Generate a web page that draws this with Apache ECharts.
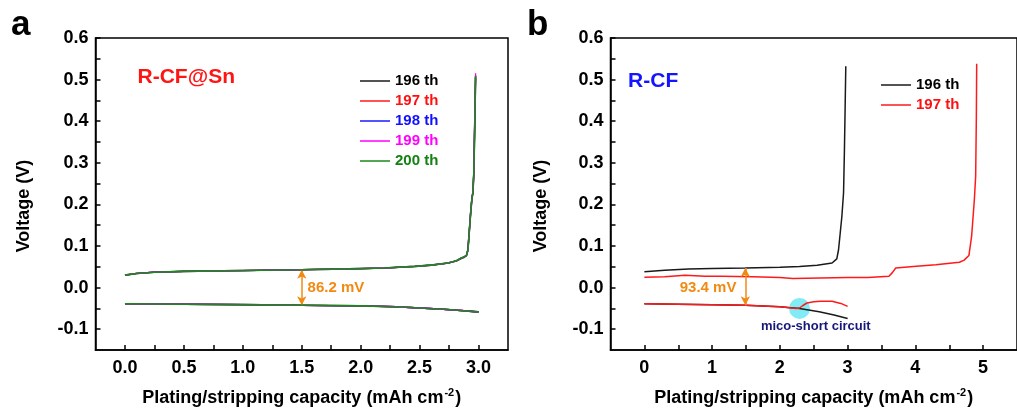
<!DOCTYPE html>
<html>
<head>
<meta charset="utf-8">
<script src="https://cdn.jsdelivr.net/npm/echarts@6/dist/echarts.min.js"></script>
<style>html,body{margin:0;padding:0;background:#fff}#c{width:1017px;height:419px}</style>
</head>
<body>
<div id="c"></div>
<script>
// ---------- tick labels ----------
const yLabels = [-0.1, 0.0, 0.1, 0.2, 0.3, 0.4, 0.5, 0.6];
const yTicks = [-0.1, -0.05, 0.0, 0.05, 0.1, 0.15, 0.2, 0.25, 0.3, 0.35, 0.4, 0.45, 0.5, 0.55, 0.6];
const aXLabels = [0.0, 0.5, 1.0, 1.5, 2.0, 2.5, 3.0];
const aXTicks = [0, 0.25, 0.5, 0.75, 1.0, 1.25, 1.5, 1.75, 2.0, 2.25, 2.5, 2.75, 3.0];
const bXLabels = [0, 1, 2, 3, 4, 5];
const bXTicks = [0, 0.5, 1, 1.5, 2, 2.5, 3, 3.5, 4, 4.5, 5];

// ---------- panel a : R-CF@Sn ----------
const aCycles = ['196 th', '197 th', '198 th', '199 th', '200 th'];
const aChargeX = [0, 0.1, 0.25, 0.5, 1.0, 1.5, 1.9, 2.2, 2.46, 2.6, 2.74, 2.81, 2.853, 2.88, 2.898, 2.91, 2.933, 2.944, 2.952, 2.96, 2.968, 2.975];
const a196Charge = [0.030, 0.034, 0.037, 0.039, 0.041, 0.043, 0.045, 0.047, 0.051, 0.054, 0.059, 0.064, 0.070, 0.073, 0.077, 0.090, 0.178, 0.214, 0.226, 0.274, 0.39, 0.505];
const a197Charge = [0.030, 0.034, 0.037, 0.039, 0.041, 0.043, 0.045, 0.047, 0.051, 0.054, 0.059, 0.064, 0.071, 0.074, 0.078, 0.091, 0.180, 0.216, 0.228, 0.276, 0.40, 0.508];
const a198Charge = [0.030, 0.034, 0.037, 0.039, 0.041, 0.043, 0.045, 0.047, 0.051, 0.054, 0.059, 0.064, 0.071, 0.074, 0.078, 0.091, 0.180, 0.216, 0.228, 0.277, 0.40, 0.510];
const a199Charge = [0.030, 0.034, 0.037, 0.039, 0.041, 0.043, 0.045, 0.047, 0.051, 0.054, 0.059, 0.064, 0.071, 0.074, 0.078, 0.091, 0.180, 0.216, 0.229, 0.278, 0.41, 0.515];
const a200Charge = [0.030, 0.034, 0.037, 0.039, 0.041, 0.043, 0.045, 0.047, 0.051, 0.054, 0.059, 0.064, 0.071, 0.074, 0.078, 0.091, 0.180, 0.216, 0.228, 0.276, 0.40, 0.509];
const aDisX = [0, 0.5, 1.0, 1.5, 2.0, 2.3, 2.5, 2.7, 2.85, 3.0];
const a196Dis = [-0.039, -0.040, -0.041, -0.0425, -0.044, -0.046, -0.049, -0.052, -0.055, -0.059];
const a197Dis = [-0.039, -0.040, -0.041, -0.0425, -0.044, -0.046, -0.049, -0.052, -0.055, -0.058];
const a198Dis = [-0.039, -0.040, -0.041, -0.0425, -0.044, -0.046, -0.049, -0.052, -0.055, -0.058];
const a199Dis = [-0.039, -0.040, -0.041, -0.0425, -0.044, -0.046, -0.049, -0.052, -0.055, -0.059];
const a200Dis = [-0.039, -0.040, -0.041, -0.0425, -0.044, -0.046, -0.049, -0.052, -0.055, -0.059];
const aGap = [1.5, 0.043, -0.0425];     // x, top, bottom of 86.2 mV arrow

// ---------- panel b : R-CF ----------
const bCycles = ['196 th', '197 th'];
const b196ChargeX = [0, 0.3, 0.65, 1.0, 1.49, 2.0, 2.29, 2.55, 2.77, 2.84, 2.866, 2.89, 2.915, 2.94, 2.953, 2.963, 2.973];
const b196Charge = [0.038, 0.042, 0.045, 0.046, 0.047, 0.049, 0.051, 0.054, 0.059, 0.069, 0.091, 0.13, 0.171, 0.228, 0.332, 0.43, 0.532];
const b196DisX = [0, 0.5, 1.0, 1.49, 2.0, 2.29, 2.58, 2.8, 3.0];
const b196Dis = [-0.039, -0.040, -0.041, -0.0425, -0.046, -0.0505, -0.058, -0.066, -0.0745];
const b197ChargeX = [0, 0.3, 0.6, 0.9, 1.13, 1.6, 2.0, 2.19, 2.6, 3.0, 3.3, 3.61, 3.66, 3.71, 3.97, 4.3, 4.65, 4.72, 4.79, 4.83, 4.87, 4.89, 4.90, 4.905];
const b197Charge = [0.025, 0.026, 0.0296, 0.027, 0.027, 0.026, 0.024, 0.022, 0.023, 0.024, 0.024, 0.027, 0.036, 0.047, 0.051, 0.055, 0.061, 0.066, 0.077, 0.123, 0.21, 0.268, 0.41, 0.538];
const b197DisX = [0, 0.5, 1.0, 1.49, 2.0, 2.24, 2.29, 2.34, 2.4, 2.5, 2.6, 2.77, 2.9, 3.0];
const b197Dis = [-0.039, -0.040, -0.041, -0.0425, -0.046, -0.0505, -0.049, -0.043, -0.037, -0.034, -0.033, -0.033, -0.038, -0.045];
const bGap = [1.49, 0.047, -0.0425];    // x, top, bottom of 93.4 mV arrow
const bShort = [2.29, -0.05];           // micro-short circuit point

// ---------- annotation texts (data coords) ----------
const aNotes = [{ text: 'R-CF@Sn', at: [0.52, 0.505] }, { text: '86.2 mV', at: [1.79, 0.0] }];
const bNotes = [{ text: 'R-CF', at: [0.13, 0.495] }, { text: '93.4 mV', at: [0.94, 0.0] }, { text: 'mico-short circuit', at: [2.53, -0.094] }];

// ---------- styles ----------
const FONT = '"Liberation Sans", Arial, sans-serif';
const cycleColor = { '196 th': '#1a1a1a', '197 th': '#ff1a1a', '198 th': '#1a1aff', '199 th': '#ff00ff', '200 th': '#1a8a1a' };
const cycleWidth = { '196 th': 1.6, '197 th': 1.3, '198 th': 1.3, '199 th': 1.3, '200 th': 1.6 };
const legendTextColor = { '196 th': '#000000', '197 th': '#ff1010', '198 th': '#1010ff', '199 th': '#ff00ff', '200 th': '#138213' };
const ORANGE = '#f28a12';
const noteStyle = {
  'R-CF@Sn': { color: '#ff1414', fontSize: 21 },
  'R-CF': { color: '#1414ff', fontSize: 21 },
  '86.2 mV': { color: ORANGE, fontSize: 15 },
  '93.4 mV': { color: ORANGE, fontSize: 15 },
  'mico-short circuit': { color: '#17177a', fontSize: 13 }
};

const zip = (xs, ys) => xs.map((x, i) => [x, ys[i]]);

function lineSeries(name, xs, ys, idx, z, w) {
  const c = cycleColor[name];
  return {
    type: 'line', name, xAxisIndex: idx, yAxisIndex: idx,
    data: zip(xs, ys), symbol: 'none', showSymbol: false,
    lineStyle: { color: c, width: w }, itemStyle: { color: c },
    z, silent: true, animation: false
  };
}

function arrowSeries(gap, idx) {
  return {
    type: 'line', xAxisIndex: idx, yAxisIndex: idx, data: [], silent: true, animation: false,
    markLine: {
      silent: true, animation: false,
      symbol: ['arrow', 'arrow'], symbolSize: [7, 9],
      lineStyle: { color: ORANGE, width: 1.5, type: 'solid' },
      label: { show: false },
      data: [[{ coord: [gap[0], gap[1]] }, { coord: [gap[0], gap[2]] }]]
    }
  };
}

function noteSeries(notes, idx) {
  return {
    type: 'scatter', xAxisIndex: idx, yAxisIndex: idx, symbolSize: 0, silent: true, animation: false, z: 20,
    data: notes.map(n => ({
      value: n.at,
      label: {
        show: true, position: 'inside', formatter: n.text,
        color: noteStyle[n.text].color, fontSize: noteStyle[n.text].fontSize,
        fontWeight: 'bold', fontFamily: FONT,
        textBorderWidth: 0, textBorderColor: 'transparent', textShadowBlur: 0, opacity: 1
      }
    }))
  };
}

function xAxis(idx, min, max, labels, ticks, fmt) {
  return {
    type: 'value', gridIndex: idx, min, max,
    axisLine: { show: true, onZero: false, lineStyle: { color: '#000', width: 1.5 } },
    axisTick: { show: true, inside: true, length: 5, customValues: ticks, lineStyle: { color: '#000', width: 1.5 } },
    axisLabel: { customValues: labels, formatter: fmt, color: '#000', fontSize: 18, fontWeight: 'bold', fontFamily: FONT, margin: 9 },
    splitLine: { show: false },
    name: '{n|Plating/stripping capacity (mAh cm}{s|-2}{n|)}',
    nameLocation: 'middle', nameGap: 37,
    nameTextStyle: {
      rich: {
        n: { fontSize: 18, fontWeight: 'bold', fontFamily: FONT, color: '#000', lineHeight: 22 },
        s: { fontSize: 11, fontWeight: 'bold', fontFamily: FONT, color: '#000', verticalAlign: 'top', lineHeight: 22, padding: [0, 1, 0, 1] }
      }
    }
  };
}

function yAxis(idx, gap) {
  return {
    type: 'value', gridIndex: idx, min: -0.15, max: 0.6,
    axisLine: { show: true, onZero: false, lineStyle: { color: '#000', width: 1.5 } },
    axisTick: { show: true, inside: true, length: 5, customValues: yTicks, lineStyle: { color: '#000', width: 1.5 } },
    axisLabel: { customValues: yLabels, formatter: v => v.toFixed(1), color: '#000', fontSize: 18, fontWeight: 'bold', fontFamily: FONT, margin: 7 },
    splitLine: { show: false },
    name: 'Voltage (V)', nameLocation: 'middle', nameGap: gap, nameRotate: 90,
    nameTextStyle: { fontSize: 18, fontWeight: 'bold', fontFamily: FONT, color: '#000', padding: [0, 24, 0, 0] }
  };
}

function legend(names, left, top) {
  return {
    left, top, orient: 'vertical', padding: 0, itemGap: 0,
    icon: 'rect', itemWidth: 30, itemHeight: 1.5, selectedMode: false,
    data: names.map(n => ({
      name: n,
      textStyle: { color: legendTextColor[n], fontSize: 15, fontWeight: 'bold', fontFamily: FONT, lineHeight: 20 }
    })),
    textStyle: { fontSize: 15, fontWeight: 'bold', fontFamily: FONT, lineHeight: 20 }
  };
}

const series = [];
// panel a
const aCharge = [a196Charge, a197Charge, a198Charge, a199Charge, a200Charge];
const aDis = [a196Dis, a197Dis, a198Dis, a199Dis, a200Dis];
aCycles.forEach((n, i) => {
  series.push(lineSeries(n, aChargeX, aCharge[i], 0, 2 + i, cycleWidth[n]));
  series.push(lineSeries(n, aDisX, aDis[i], 0, 2 + i, cycleWidth[n]));
});
series.push(arrowSeries(aGap, 0));
series.push(noteSeries(aNotes, 0));
// panel b
series.push({
  type: 'scatter', xAxisIndex: 1, yAxisIndex: 1, symbol: 'circle', symbolSize: 21, silent: true, animation: false, z: 1,
  itemStyle: { color: 'rgba(72,226,240,0.85)' }, data: [bShort]
});
series.push(lineSeries('196 th', b196ChargeX, b196Charge, 1, 2, 1.5));
series.push(lineSeries('196 th', b196DisX, b196Dis, 1, 2, 1.5));
series.push(lineSeries('197 th', b197ChargeX, b197Charge, 1, 3, 1.5));
series.push(lineSeries('197 th', b197DisX, b197Dis, 1, 3, 1.5));
series.push(arrowSeries(bGap, 1));
series.push(noteSeries(bNotes, 1));

const chart = echarts.init(document.getElementById('c'), null, { renderer: 'canvas' });
chart.setOption({
  animation: false,
  backgroundColor: '#fff',
  grid: [
    { left: 95.5, top: 38, width: 412.5, height: 312, show: true, borderColor: '#000', borderWidth: 1.5, containLabel: false },
    { left: 610.5, top: 38, width: 415.5, height: 312, show: true, borderColor: '#000', borderWidth: 1.5, containLabel: false }
  ],
  xAxis: [
    xAxis(0, -0.25, 3.25, aXLabels, aXTicks, v => v.toFixed(1)),
    xAxis(1, -0.5, 5.5, bXLabels, bXTicks, v => String(v))
  ],
  yAxis: [yAxis(0, 62), yAxis(1, 60)],
  legend: [legend(aCycles, 360, 71), legend(bCycles, 881, 75)],
  graphic: [
    { type: 'text', left: 11, top: 8, style: { text: 'a', fontSize: 35, fontWeight: 'bold', fontFamily: FONT, fill: '#000' } },
    { type: 'text', left: 527, top: 8, style: { text: 'b', fontSize: 35, fontWeight: 'bold', fontFamily: FONT, fill: '#000' } }
  ],
  series
});
</script>
</body>
</html>
